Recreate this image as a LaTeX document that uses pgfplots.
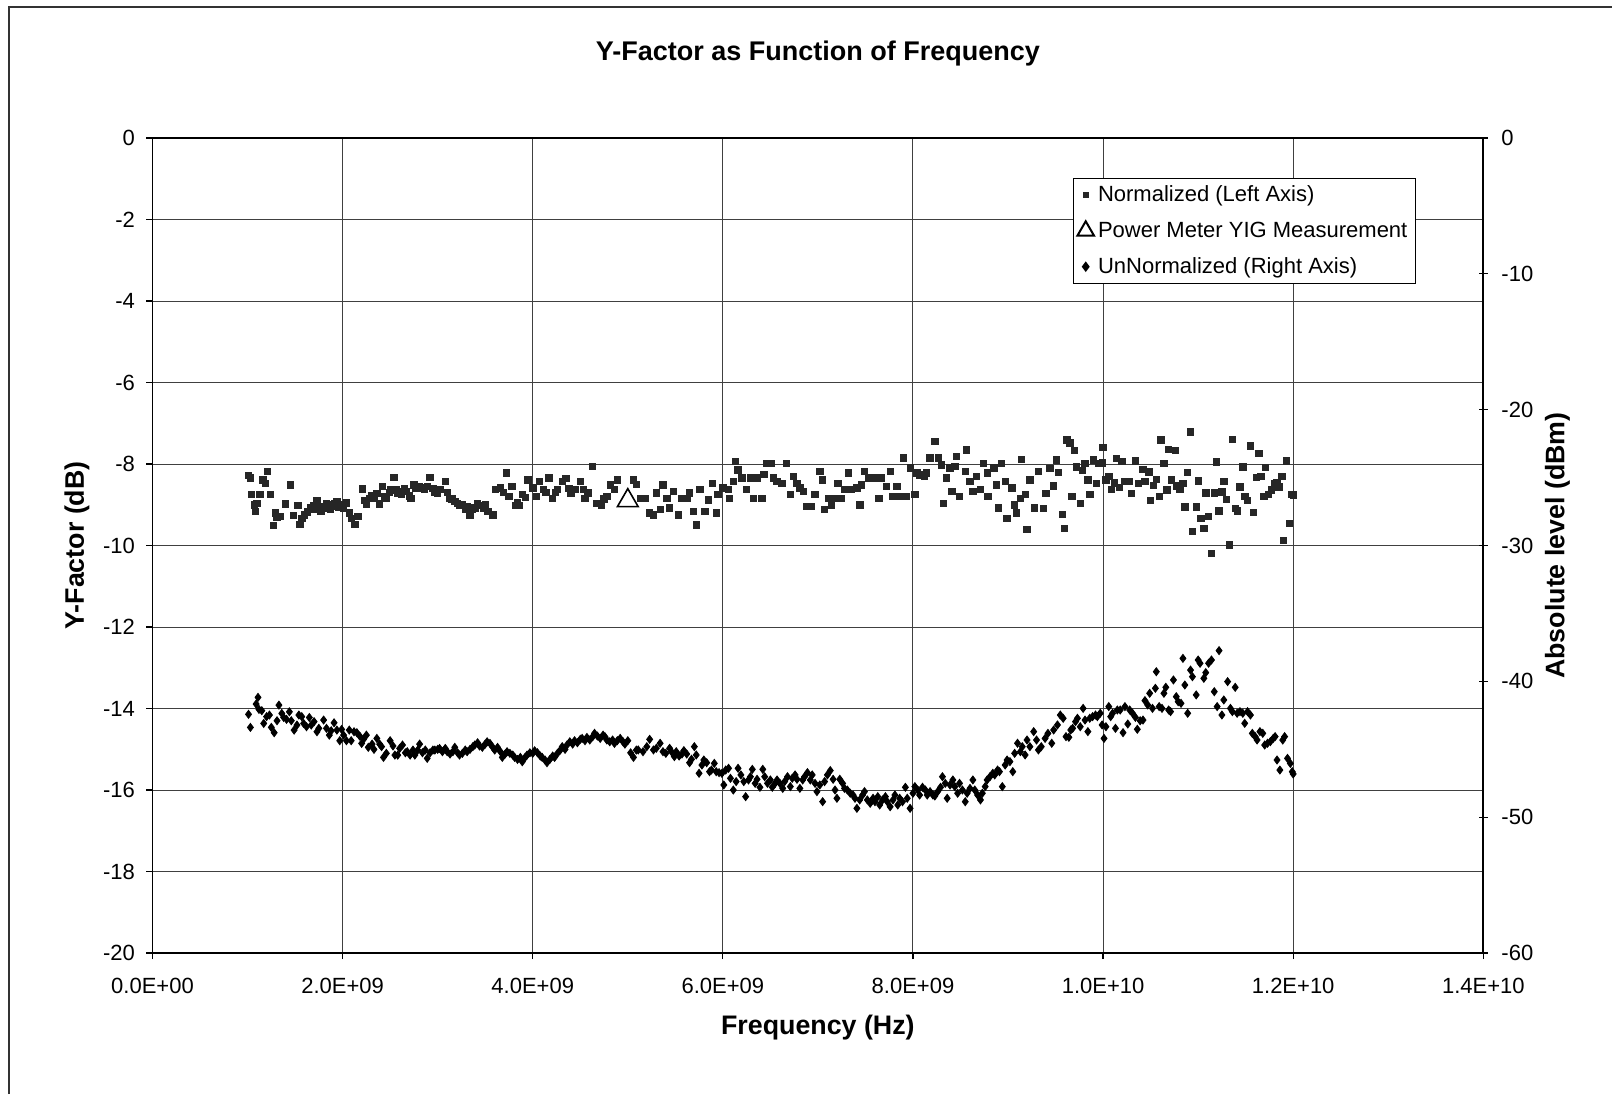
\documentclass[border=0pt]{standalone}
\usepackage{fontspec}
\setmainfont{Liberation Sans}
\usepackage{pgfplots}
\usepackage{pgfplotstable}
\pgfplotsset{compat=1.18}

% x in GHz, Y-factor in dB (left axis)
\pgfplotstableread{
x y
1.01 -8.28
1.03 -8.34
1.04 -8.75
1.07 -9.00
1.08 -9.16
1.10 -8.96
1.13 -8.74
1.16 -8.39
1.19 -8.48
1.21 -8.18
1.24 -8.75
1.27 -9.50
1.29 -9.20
1.31 -9.30
1.34 -9.29
1.40 -8.98
1.45 -8.51
1.48 -9.26
1.53 -9.02
1.55 -9.48
1.57 -9.33
1.60 -9.25
1.63 -9.18
1.66 -9.08
1.69 -9.02
1.71 -9.12
1.73 -8.90
1.75 -9.05
1.77 -9.16
1.80 -9.08
1.83 -8.98
1.85 -9.00
1.87 -9.10
1.89 -9.04
1.92 -8.98
1.94 -8.92
1.96 -9.06
1.98 -9.00
2.01 -9.08
2.04 -8.95
2.07 -9.20
2.09 -9.33
2.13 -9.48
2.16 -9.29
2.21 -8.61
2.23 -8.90
2.25 -8.98
2.28 -8.84
2.31 -8.78
2.33 -8.84
2.36 -8.72
2.39 -8.98
2.42 -8.55
2.44 -8.80
2.46 -8.84
2.49 -8.70
2.51 -8.63
2.54 -8.33
2.56 -8.64
2.58 -8.71
2.60 -8.68
2.62 -8.75
2.65 -8.60
2.67 -8.67
2.70 -8.78
2.72 -8.84
2.75 -8.51
2.77 -8.60
2.79 -8.55
2.81 -8.55
2.83 -8.59
2.86 -8.62
2.89 -8.55
2.92 -8.33
2.95 -8.60
2.97 -8.69
3.00 -8.72
3.03 -8.63
3.08 -8.43
3.10 -8.70
3.13 -8.84
3.15 -8.86
3.18 -8.92
3.21 -8.96
3.23 -9.02
3.26 -9.00
3.29 -9.12
3.31 -9.05
3.34 -9.25
3.36 -9.10
3.39 -9.08
3.42 -8.98
3.44 -9.02
3.48 -9.08
3.50 -9.00
3.53 -9.16
3.58 -9.25
3.61 -8.63
3.66 -8.59
3.69 -8.70
3.72 -8.22
3.75 -8.80
3.78 -8.55
3.82 -9.02
3.84 -8.95
3.86 -9.02
3.89 -8.75
3.92 -8.82
3.95 -8.39
4.00 -8.59
4.04 -8.80
4.07 -8.43
4.11 -8.63
4.14 -8.70
4.17 -8.34
4.21 -8.84
4.24 -8.70
4.26 -8.63
4.31 -8.43
4.35 -8.36
4.38 -8.60
4.40 -8.71
4.45 -8.63
4.50 -8.43
4.53 -8.62
4.55 -8.84
4.58 -8.71
4.63 -8.06
4.67 -8.96
4.72 -9.00
4.75 -8.86
4.78 -8.80
4.82 -8.51
4.86 -8.62
4.89 -8.39
5.06 -8.39
5.09 -8.50
5.13 -8.84
5.18 -8.84
5.23 -9.20
5.27 -9.25
5.30 -8.71
5.34 -9.12
5.37 -8.51
5.41 -8.84
5.44 -9.08
5.48 -8.67
5.53 -9.25
5.57 -8.84
5.62 -8.84
5.65 -8.71
5.69 -9.16
5.72 -9.49
5.76 -8.63
5.81 -9.16
5.85 -8.88
5.89 -8.47
5.93 -9.20
5.95 -8.75
6.00 -8.59
6.06 -8.63
6.07 -8.84
6.11 -8.43
6.13 -7.93
6.16 -8.14
6.20 -8.34
6.25 -8.63
6.29 -8.34
6.32 -8.84
6.36 -8.34
6.41 -8.84
6.43 -8.26
6.46 -7.98
6.51 -7.98
6.53 -8.34
6.57 -8.43
6.62 -8.47
6.67 -7.98
6.71 -8.75
6.74 -8.30
6.78 -8.47
6.81 -8.59
6.85 -8.67
6.88 -9.04
6.93 -9.04
6.97 -8.75
7.02 -8.18
7.05 -8.39
7.07 -9.12
7.11 -8.84
7.14 -9.00
7.18 -8.84
7.21 -8.47
7.25 -8.84
7.28 -8.63
7.32 -8.22
7.35 -8.63
7.41 -8.59
7.44 -9.00
7.46 -8.51
7.49 -8.18
7.53 -8.34
7.58 -8.34
7.61 -8.34
7.64 -8.84
7.67 -8.34
7.72 -8.55
7.76 -8.18
7.79 -8.80
7.83 -8.55
7.86 -8.80
7.90 -7.85
7.93 -8.80
7.97 -8.10
8.02 -8.75
8.04 -8.22
8.07 -8.28
8.09 -8.26
8.12 -8.30
8.14 -8.22
8.18 -7.85
8.23 -7.44
8.27 -7.85
8.30 -8.02
8.32 -8.96
8.35 -8.34
8.39 -8.10
8.41 -8.67
8.44 -8.06
8.46 -7.81
8.49 -8.80
8.55 -8.18
8.56 -7.65
8.60 -8.43
8.63 -8.67
8.67 -8.30
8.71 -8.63
8.74 -7.98
8.78 -8.22
8.79 -8.80
8.85 -8.10
8.88 -8.51
8.90 -9.08
8.93 -7.98
8.97 -8.43
8.99 -9.33
9.04 -8.59
9.07 -9.00
9.09 -9.20
9.13 -8.84
9.14 -7.89
9.18 -8.75
9.20 -9.61
9.23 -8.39
9.28 -9.08
9.32 -8.18
9.37 -9.09
9.40 -8.72
9.44 -8.11
9.48 -8.54
9.51 -7.90
9.53 -8.21
9.57 -9.24
9.59 -9.58
9.62 -7.41
9.65 -7.48
9.67 -8.79
9.70 -7.66
9.72 -8.07
9.76 -8.97
9.78 -8.15
9.81 -7.98
9.84 -8.39
9.86 -8.75
9.90 -7.90
9.93 -8.48
9.95 -7.98
9.99 -7.97
10.00 -7.59
10.03 -8.39
10.06 -8.31
10.09 -8.62
10.12 -8.46
10.14 -7.86
10.17 -8.57
10.20 -7.94
10.23 -8.43
10.27 -8.43
10.30 -8.72
10.34 -7.92
10.37 -8.48
10.42 -8.13
10.44 -8.43
10.48 -8.19
10.50 -8.90
10.53 -8.52
10.56 -8.38
10.59 -8.80
10.61 -7.41
10.64 -7.98
10.67 -8.64
10.69 -7.64
10.72 -8.39
10.76 -7.67
10.77 -8.54
10.81 -8.62
10.84 -8.48
10.86 -9.05
10.89 -8.21
10.92 -7.21
10.94 -9.65
10.98 -9.05
11.00 -8.41
11.03 -9.33
11.06 -9.58
11.08 -8.71
11.11 -9.28
11.14 -10.19
11.17 -8.71
11.19 -7.95
11.22 -9.15
11.25 -8.68
11.27 -8.43
11.30 -8.87
11.33 -9.99
11.36 -7.40
11.39 -9.09
11.41 -9.15
11.44 -8.56
11.47 -8.07
11.49 -8.79
11.52 -8.90
11.55 -7.56
11.58 -9.19
11.61 -8.33
11.64 -7.74
11.66 -8.30
11.69 -8.80
11.71 -8.08
11.74 -8.74
11.77 -8.64
11.80 -8.48
11.83 -8.46
11.85 -8.56
11.88 -8.31
11.90 -9.87
11.93 -7.92
11.96 -9.46
11.98 -8.74
12.00 -8.76
}\normdata

% x in GHz, absolute level in dBm (right axis)
\pgfplotstableread{
x y
1.01 -42.43
1.03 -43.39
1.09 -41.67
1.11 -41.18
1.12 -42.07
1.15 -42.16
1.17 -43.10
1.20 -42.60
1.23 -42.48
1.25 -43.39
1.28 -43.78
1.31 -42.90
1.33 -41.75
1.36 -42.36
1.38 -42.66
1.41 -42.80
1.44 -42.24
1.46 -42.90
1.49 -43.59
1.52 -43.22
1.54 -42.48
1.57 -42.60
1.59 -43.10
1.62 -43.34
1.65 -42.66
1.67 -43.22
1.70 -42.97
1.73 -43.71
1.75 -43.46
1.80 -42.85
1.83 -43.46
1.86 -43.96
1.88 -43.64
1.91 -43.05
1.94 -43.59
1.97 -44.37
1.99 -43.54
2.01 -43.96
2.04 -44.37
2.07 -43.59
2.09 -44.37
2.12 -43.71
2.15 -43.78
2.18 -44.03
2.20 -44.57
2.22 -44.27
2.25 -43.96
2.27 -44.86
2.31 -44.62
2.33 -45.01
2.36 -44.20
2.39 -44.62
2.41 -44.81
2.43 -45.60
2.46 -45.30
2.50 -44.37
2.53 -44.76
2.55 -45.43
2.58 -45.43
2.60 -44.94
2.63 -44.69
2.66 -45.26
2.68 -45.18
2.71 -45.43
2.74 -45.06
2.76 -45.43
2.79 -45.06
2.81 -44.62
2.84 -45.26
2.87 -45.06
2.89 -45.67
2.92 -45.26
2.95 -45.06
2.97 -45.06
3.00 -45.01
3.02 -44.94
3.05 -45.18
3.08 -44.94
3.10 -45.18
3.13 -45.35
3.16 -45.18
3.18 -44.86
3.21 -45.26
3.23 -45.43
3.26 -45.30
3.29 -45.06
3.31 -45.18
3.34 -45.01
3.37 -44.81
3.39 -44.69
3.42 -44.52
3.44 -44.76
3.47 -44.86
3.50 -44.62
3.52 -44.45
3.55 -44.57
3.58 -44.86
3.60 -45.06
3.63 -44.86
3.66 -45.18
3.68 -45.60
3.71 -45.35
3.73 -45.18
3.76 -45.30
3.79 -45.43
3.81 -45.60
3.84 -45.75
3.87 -45.60
3.89 -45.92
3.92 -45.60
3.94 -45.43
3.97 -45.26
4.00 -45.30
4.02 -45.11
4.05 -45.26
4.08 -45.50
4.10 -45.60
4.13 -45.80
4.15 -45.99
4.18 -45.75
4.21 -45.50
4.23 -45.60
4.26 -45.30
4.29 -45.06
4.31 -44.81
4.34 -45.01
4.36 -44.69
4.39 -44.45
4.42 -44.62
4.44 -44.37
4.47 -44.52
4.50 -44.27
4.52 -44.20
4.55 -44.37
4.57 -44.13
4.60 -44.32
4.63 -44.08
4.65 -43.83
4.68 -44.03
4.71 -44.20
4.74 -43.96
4.76 -44.08
4.78 -44.32
4.81 -44.45
4.84 -44.32
4.86 -44.57
4.89 -44.37
4.92 -44.20
4.95 -44.45
4.97 -44.62
5.00 -44.37
5.03 -45.26
5.06 -45.60
5.09 -45.06
5.11 -45.05
5.16 -45.18
5.20 -44.81
5.23 -44.27
5.27 -45.05
5.30 -44.93
5.34 -44.56
5.37 -45.18
5.40 -45.30
5.44 -44.93
5.46 -45.18
5.49 -45.54
5.51 -45.18
5.54 -45.50
5.57 -45.35
5.59 -45.10
5.62 -45.35
5.65 -45.99
5.67 -45.74
5.70 -44.81
5.72 -45.42
5.75 -46.77
5.78 -46.16
5.80 -45.79
5.83 -45.99
5.86 -46.65
5.88 -46.53
5.91 -46.04
5.93 -46.65
5.96 -46.72
5.99 -46.77
6.01 -47.63
6.03 -46.53
6.06 -46.40
6.08 -47.14
6.11 -48.00
6.14 -47.38
6.16 -46.40
6.19 -46.89
6.22 -47.38
6.24 -48.49
6.27 -47.26
6.29 -47.02
6.31 -46.48
6.34 -47.51
6.36 -47.21
6.39 -47.80
6.42 -46.48
6.44 -47.02
6.47 -47.51
6.50 -47.26
6.52 -47.80
6.55 -47.51
6.57 -47.26
6.60 -47.51
6.63 -47.88
6.65 -47.38
6.68 -47.02
6.71 -47.75
6.73 -47.14
6.76 -46.89
6.78 -47.21
6.81 -47.88
6.84 -47.26
6.86 -47.02
6.89 -46.72
6.92 -47.26
6.94 -46.89
6.97 -47.51
6.99 -48.12
7.02 -47.63
7.05 -48.86
7.07 -47.38
7.10 -46.89
7.13 -46.57
7.16 -47.21
7.18 -48.00
7.20 -48.61
7.23 -47.21
7.26 -47.51
7.28 -47.88
7.31 -48.00
7.34 -48.24
7.37 -48.37
7.39 -48.61
7.41 -49.35
7.44 -48.73
7.47 -48.37
7.49 -48.12
7.52 -48.73
7.55 -48.98
7.58 -48.61
7.60 -48.86
7.63 -48.49
7.65 -49.10
7.68 -48.73
7.71 -48.49
7.73 -48.86
7.76 -49.23
7.79 -48.73
7.81 -48.37
7.84 -49.10
7.86 -48.61
7.89 -48.86
7.92 -47.80
7.94 -48.61
7.97 -49.35
8.00 -48.24
8.02 -47.75
8.05 -48.00
8.07 -48.37
8.10 -47.80
8.13 -48.00
8.15 -48.37
8.18 -48.12
8.21 -48.37
8.23 -48.44
8.26 -48.12
8.29 -47.80
8.31 -47.02
8.34 -47.51
8.36 -48.61
8.39 -47.63
8.42 -47.26
8.44 -47.75
8.47 -48.24
8.49 -47.51
8.52 -48.00
8.55 -48.86
8.57 -48.24
8.60 -47.88
8.63 -47.26
8.65 -48.00
8.68 -48.37
8.71 -48.73
8.73 -48.24
8.76 -47.75
8.78 -47.26
8.81 -47.02
8.84 -46.77
8.86 -46.89
8.89 -46.53
8.91 -46.65
8.94 -47.75
8.97 -46.16
8.99 -45.79
9.02 -45.91
9.05 -46.65
9.07 -45.30
9.10 -44.56
9.13 -45.18
9.15 -44.81
9.18 -45.42
9.20 -44.32
9.23 -44.81
9.27 -43.70
9.30 -44.32
9.32 -45.05
9.35 -44.81
9.39 -44.20
9.42 -43.83
9.46 -44.56
9.48 -43.58
9.52 -43.21
9.55 -42.48
9.58 -42.72
9.61 -44.07
9.64 -44.12
9.66 -43.58
9.68 -43.46
9.71 -42.97
9.73 -42.72
9.76 -43.34
9.79 -41.99
9.81 -42.85
9.84 -43.70
9.86 -42.72
9.89 -42.60
9.92 -42.48
9.94 -42.60
9.97 -42.35
9.99 -43.21
10.01 -44.20
10.03 -43.34
10.06 -41.86
10.08 -42.60
10.10 -42.35
10.13 -43.46
10.15 -42.11
10.18 -42.11
10.21 -43.78
10.23 -41.86
10.26 -43.14
10.28 -42.11
10.31 -42.35
10.34 -42.65
10.36 -43.53
10.39 -42.90
10.42 -42.85
10.44 -41.42
10.47 -41.74
10.49 -40.88
10.52 -41.99
10.55 -40.51
10.56 -39.29
10.59 -41.86
10.62 -41.99
10.64 -40.88
10.66 -40.44
10.69 -42.11
10.71 -42.23
10.74 -39.90
10.77 -41.13
10.79 -41.50
10.82 -41.62
10.84 -38.31
10.86 -40.27
10.89 -42.35
10.92 -39.17
10.94 -39.66
10.98 -41.00
11.00 -38.43
11.02 -38.67
11.06 -39.78
11.08 -39.36
11.11 -38.67
11.14 -38.43
11.17 -40.76
11.20 -41.86
11.22 -37.74
11.25 -42.48
11.27 -41.37
11.31 -40.02
11.34 -41.99
11.36 -42.23
11.39 -40.44
11.41 -42.35
11.44 -42.23
11.47 -42.35
11.49 -43.09
11.52 -42.23
11.55 -42.48
11.57 -43.83
11.60 -44.07
11.62 -44.32
11.65 -43.70
11.68 -43.83
11.70 -44.69
11.73 -44.56
11.76 -44.44
11.79 -44.20
11.81 -44.07
11.83 -45.79
11.86 -46.53
11.89 -44.32
11.91 -44.07
11.94 -45.67
11.97 -46.04
11.99 -46.65
12.00 -46.82
}\unnormdata

\begin{document}
\begin{tikzpicture}
\pgfplotsset{
  every axis/.append style={
    scale only axis, width=665.4pt, height=407.5pt,
    at={(76.25pt,70.5pt)}, anchor=south west,
    xmin=0, xmax=14,
    font=\fontsize{11}{13}\selectfont,
  },
}
\begin{axis}[
  ymin=-20, ymax=0,
  xtick={0,2,...,14},
  xticklabels={0.0E+00,2.0E+09,4.0E+09,6.0E+09,8.0E+09,1.0E+10,1.2E+10,1.4E+10},
  ytick={-20,-18,...,0},
  yticklabels={-20,-18,-16,-14,-12,-10,-8,-6,-4,-2,0},
  xtick pos=bottom, ytick pos=left,
  tick align=outside, major tick length=3pt,
  grid=major,
  major grid style={black!75, line width=0.5pt},
  axis line style={black, line width=0.9pt},
  tick style={black, line width=0.6pt},
  xticklabel style={yshift=-6pt},
  yticklabel style={xshift=-2.3pt},
  xlabel={\bfseries Frequency (Hz)},
  xlabel style={at={(axis description cs:0.5,0)}, anchor=center, yshift=-37.5pt, font=\fontsize{13.4}{15}\selectfont},
  ylabel={\bfseries Y-Factor (dB)},
  ylabel style={at={(axis description cs:0,0.5)}, anchor=center, yshift=37.75pt, font=\fontsize{13.4}{15}\selectfont},
  title={\bfseries Y-Factor as Function of Frequency},
  title style={at={(axis description cs:0.5,1)}, anchor=center, yshift=36pt, font=\fontsize{13.5}{15}\selectfont},
]
\addplot[only marks, mark=square*, mark size=1.6pt, black!85, mark options={fill=black!85}] table[x=x, y=y] {\normdata};
\addplot[only marks, mark=triangle, mark size=6pt, black, mark options={line width=0.8pt, fill=white}] coordinates {(5.0,-8.9)};
\end{axis}

\begin{axis}[
  ymin=-60, ymax=0,
  axis x line=none,
  axis y line*=right,
  ytick={-60,-50,...,0},
  yticklabels={-60,-50,-40,-30,-20,-10,0},
  tick align=center, major tick length=4.5pt,
  axis line style={black, line width=0.9pt},
  tick style={black, line width=0.6pt},
  yticklabel style={xshift=3.3pt},
  ylabel={\bfseries Absolute level (dBm)},
  ylabel style={at={(axis description cs:1,0.5)}, anchor=center, yshift=-37.1pt, font=\fontsize{13.4}{15}\selectfont},
  legend style={at={(0.9494,0.951)}, anchor=north east, draw=black, line width=0.6pt, fill=white,
    font=\fontsize{11}{13}\selectfont, inner xsep=2pt, inner ysep=1.5pt,
    row sep=4.6pt, cells={anchor=west}},
  legend image post style={line width=0.8pt},
]
\addlegendimage{only marks, mark=square*, mark size=1.3pt, black!85, mark options={fill=black!85, line width=0.4pt}}
\addlegendentry{Normalized (Left Axis)}
\addlegendimage{only marks, mark=triangle, mark size=4.8pt, black, mark options={line width=1pt}}
\addlegendentry{Power Meter YIG Measurement}
\addplot[only marks, mark=diamond*, mark size=2pt, black, mark options={fill=black}] table[x=x, y=y] {\unnormdata};
\addlegendentry{UnNormalized (Right Axis)}
\end{axis}

\draw[black!80, line width=0.6pt] (4.5pt,0pt) -- (4.5pt,543.5pt) -- (806pt,543.5pt);
\pgfresetboundingbox
\useasboundingbox (0pt,0pt) rectangle (806pt,547pt);
\end{tikzpicture}
\end{document}
